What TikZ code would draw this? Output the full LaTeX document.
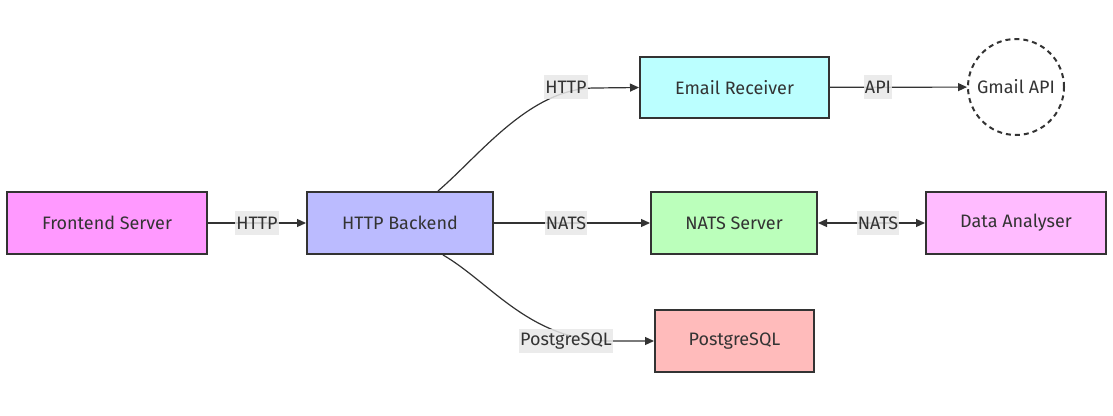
\documentclass[tikz,border=0pt]{standalone}
\usepackage{fontspec}
\setmainfont{Fira Sans}
\usetikzlibrary{arrows.meta,positioning}
\definecolor{edge}{HTML}{333333}
\definecolor{lblbg}{HTML}{E8E8E8}

\tikzset{
  box/.style={draw=edge, line width=2pt, minimum height=62pt, text=edge, font=\fontsize{18}{21}\selectfont},
  ext/.style={draw=edge, line width=2pt, dash pattern=on 5pt off 4pt, circle, minimum size=96pt, text=edge, font=\fontsize{18}{21}\selectfont},
  link/.style={draw=edge, line width=1.2pt, -{Triangle[length=9pt,width=8pt]}},
  bilink/.style={draw=edge, line width=1.2pt, {Triangle[length=9pt,width=8pt]}-{Triangle[length=9pt,width=8pt]}},
  lbl/.style={fill=lblbg, fill opacity=.85, text opacity=1, text=edge, inner sep=1pt, minimum height=24pt, font=\fontsize{18}{21}\selectfont}
}

\begin{document}
\begin{tikzpicture}[x=1pt, y=-1pt]
\useasboundingbox (0,0) rectangle (1113,415);
% services
\node[box, fill={rgb,255:red,255;green,153;blue,255}, minimum width=200pt] (front) at (107,223) {Frontend Server};
\node[box, fill={rgb,255:red,187;green,187;blue,255}, minimum width=186pt] (back) at (400,223) {HTTP Backend};
\node[box, fill={rgb,255:red,187;green,255;blue,255}, minimum width=189pt, minimum height=61pt] (email) at (734.5,87.5) {Email Receiver};
\node[ext] (gmail) at (1016,87) {Gmail API};
\node[box, fill={rgb,255:red,187;green,255;blue,187}, minimum width=166pt] (nats) at (734,223) {NATS Server};
\node[box, fill={rgb,255:red,255;green,187;blue,255}, minimum width=180pt] (analyser) at (1016,223) {Data Analyser};
\node[box, fill={rgb,255:red,255;green,187;blue,187}, minimum width=159pt] (pg) at (734.5,341) {PostgreSQL};
% curve ends
\coordinate (backtop) at ([xshift=38pt]back.north);
\coordinate (backbot) at ([xshift=43pt]back.south);
% connectors
\draw[link] (front) -- (back);
\draw[link] (back) -- (nats);
\draw[bilink] (nats) -- (analyser);
\draw[link] (email) -- (gmail);
\draw[link] (backtop) .. controls (480,155) and (530,88) .. (595,88) -- (email.west);
\draw[link] (backbot) .. controls (490,282) and (530,341) .. (610,341) -- (pg.west);
% labels
\node[lbl] (l1) at (257,223) {HTTP};
\node[lbl] (l2) at (566,223) {NATS};
\node[lbl] (l3) at (878,223) {NATS};
\node[lbl] (l4) at (878,87) {API};
\node[lbl] (l5) at (566,87) {HTTP};
\node[lbl] (l6) at (566,341) {PostgreSQL};
\end{tikzpicture}
\end{document}
